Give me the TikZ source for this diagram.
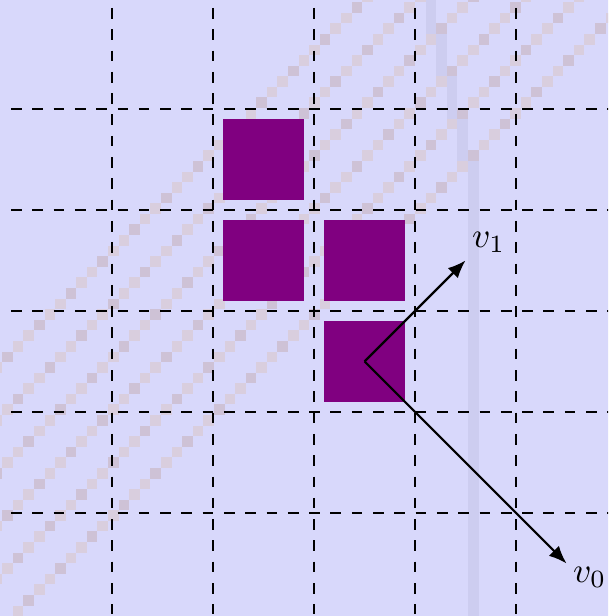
\documentclass[tikz,border=0pt]{standalone}
\usepackage{tikz}
\usetikzlibrary{positioning}
\usetikzlibrary{arrows.meta}
\usepackage{xcolor}
\definecolor{bgblue}{RGB}{216,216,251}
\definecolor{pixlight}{RGB}{217,206,222}
\definecolor{pixdark}{RGB}{206,194,214}
\definecolor{bandblue}{RGB}{205,205,240}
\definecolor{cellpurple}{RGB}{128,0,128}

\begin{document}
\begin{tikzpicture}[
	g/.style={dashed, thin, black},
	sq/.style={rectangle, fill=cellpurple, draw=none, inner sep=0pt, minimum size=0.8cm},
	vec/.style={-{Latex[length=5pt, width=4pt]}, semithick, black},
	]
	\useasboundingbox (-3.109,-3.020) rectangle (2.911,3.079);
	\clip (-3.109,-3.020) rectangle (2.911,3.079);
	\fill[bgblue] (-3.2,-3.1) rectangle (3,3.2);
	
	%Pixels
	\begin{scope}[shift={(-3.087,3.057)}, x=0.1048cm, y=-0.1048cm]
		\fill[bandblue] (40,-2) rectangle (41,3);
		\fill[bandblue] (41,3) rectangle (42,7);
		\fill[bandblue] (42,7) rectangle (43,11);
		\fill[bandblue] (43,11) rectangle (44,15);
		\fill[bandblue] (44,15) rectangle (45,60);
		\foreach \k in {33,38,...,58} {
			\foreach \c in {-1,...,59} {
				\pgfmathtruncatemacro{\r}{\k-\c}
				\pgfmathtruncatemacro{\t}{mod(\c*7+\k,3)}
				\ifnum\t=0
					\fill[pixdark] (\c,\r) rectangle ++(1,1);
				\else
					\fill[pixlight] (\c,\r) rectangle ++(1,1);
				\fi
			}
		}
	\end{scope}
	
	%Grid
	\foreach \i in {-2,...,2} {
		\draw[g] (-3,\i) -- (3,\i);
		\draw[g] (\i,3) -- (\i,-3);
	}
	
	%Nodes
	\node[sq]	(sq1)	at (-0.5,1.5)	{};
	\node[sq]	(sq2)	at (-0.5,0.5)	{};
	\node[sq]	(sq3)	at (0.5,0.5)	{};
	\node[sq]	(sq4)	at (0.5,-0.5)	{};
	\coordinate (o)  at (0.5,-0.5);
	\coordinate (t0) at (2.5,-2.5);
	\coordinate (t1) at (1.5,0.5);
	\node		(l0)	at (2.73,-2.64)	{$v_0$};
	\node		(l1)	at (1.73,0.68)	{$v_1$};
	
	%Lines
	\draw[vec] (o) -- (t0);
	\draw[vec] (o) -- (t1);
\end{tikzpicture}
\end{document}
